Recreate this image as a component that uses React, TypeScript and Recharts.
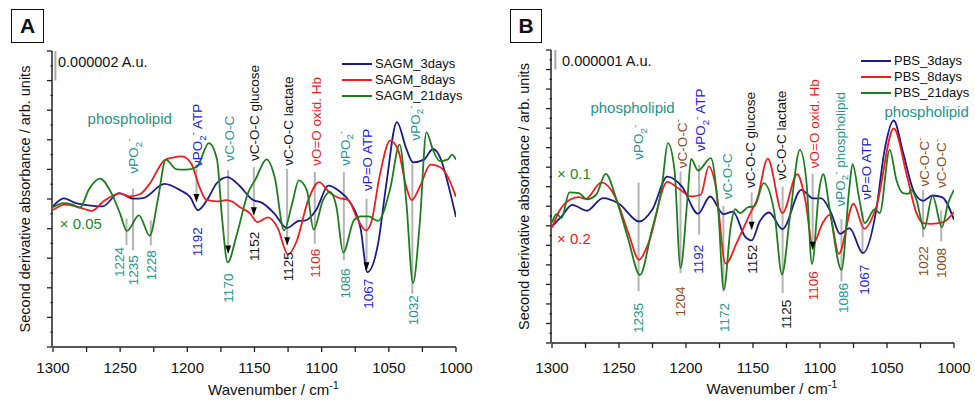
import React from 'react';
import { LineChart, Line, XAxis, YAxis, ReferenceLine, ReferenceDot, Legend } from 'recharts';

type Pt = [number, number];

const FONT = '"Liberation Sans", Arial, Helvetica, sans-serif';
const C_BLUE = '#1b1b8c';
const C_RED = '#f41c1c';
const C_GREEN = '#1e7e1e';
const TEAL = '#22968c';
const LBLUE = '#2020e8';
const LRED = '#f01818';
const BROWN = '#8a4a1c';
const BLACK = '#111111';
const XGREEN = '#1e8a1e';

// ---------- tick labels ----------
const xTicks = [1000, 1025, 1050, 1075, 1100, 1125, 1150, 1175, 1200, 1225, 1250, 1275, 1300];
const xLabeled = [1000, 1050, 1100, 1150, 1200, 1250, 1300];
const yMajorA = [0, 1, 2, 3, 4, 5, 6, 7, 8, 9, 10];
const yMinorA = [0.5, 1.5, 2.5, 3.5, 4.5, 5.5, 6.5, 7.5, 8.5, 9.5];
const yMajorB = [0, 1, 2, 3, 4, 5, 6, 7, 8, 9, 10, 11, 12, 13, 14, 15];
const yMinorB = [0.5, 1.5, 2.5, 3.5, 4.5, 5.5, 6.5, 7.5, 8.5, 9.5, 10.5, 11.5, 12.5, 13.5, 14.5];

// ---------- Panel A series (wavenumber, 2nd derivative in arb. units) ----------
const SAGM_3days: Pt[] = [
  [1300, 4.75], [1292, 5.02], [1283, 4.86], [1275, 4.79], [1263, 4.75], [1251, 5.2], [1240, 5.01],
  [1233, 5.03], [1217, 5.51], [1205, 5.29], [1198, 5.07], [1192, 4.62], [1185, 4.99], [1178, 5.54],
  [1170, 5.74], [1161, 5.44], [1152, 4.99], [1144, 4.86], [1135, 4.5], [1126, 4.02], [1117, 4.26],
  [1112, 4.28], [1104, 4.64], [1095, 5.45], [1087, 5.27], [1079, 4.9], [1071, 4.0], [1066, 2.53],
  [1058, 3.49], [1052, 5.46], [1044, 7.6], [1037, 6.7], [1032, 6.24], [1024, 6.33], [1017, 6.69],
  [1011, 6.31], [1006, 5.52], [1000, 4.39],
];
const SAGM_8days: Pt[] = [
  [1300, 4.63], [1291, 4.81], [1280, 4.71], [1271, 4.6], [1263, 4.9], [1250, 5.19], [1243, 5.09],
  [1235, 5.17], [1228, 5.52], [1217, 6.31], [1211, 6.4], [1204, 6.44], [1197, 6.19], [1191, 5.41],
  [1186, 4.98], [1178, 4.92], [1171, 4.96], [1166, 4.9], [1161, 4.73], [1153, 4.5], [1148, 4.22],
  [1140, 4.38], [1133, 4.05], [1125, 3.13], [1119, 3.53], [1110, 4.96], [1102, 5.57], [1094, 5.21],
  [1088, 5.05], [1080, 4.96], [1074, 4.39], [1067, 3.94], [1063, 4.22], [1057, 5.74], [1049, 6.97],
  [1043, 6.64], [1037, 5.41], [1033, 4.96], [1027, 5.41], [1019, 6.16], [1012, 6.08], [1006, 5.74],
  [1000, 5.07],
];
const SAGM_21days: Pt[] = [
  [1300, 4.72], [1292, 4.86], [1286, 4.82], [1280, 4.71], [1273, 5.35], [1265, 5.69], [1257, 5.24],
  [1250, 4.5], [1245, 3.92], [1236, 4.45], [1228, 3.76], [1222, 4.96], [1216, 6.33], [1208, 6.0],
  [1201, 5.99], [1193, 6.08], [1184, 6.89], [1178, 6.36], [1174, 4.28], [1170, 2.86], [1163, 3.83],
  [1155, 5.18], [1149, 5.69], [1141, 6.34], [1135, 5.74], [1128, 3.94], [1122, 4.84], [1117, 5.63],
  [1111, 5.29], [1106, 3.97], [1099, 4.96], [1094, 5.24], [1089, 4.73], [1084, 3.19], [1076, 4.28],
  [1071, 4.41], [1065, 4.41], [1058, 4.26], [1049, 5.35], [1042, 6.84], [1037, 4.9], [1032, 2.16],
  [1027, 4.17], [1022, 7.25], [1017, 6.64], [1012, 6.28], [1006, 6.34], [1003, 6.5], [1000, 6.33],
];

// ---------- Panel B series ----------
const PBS_3days: Pt[] = [
  [1300, 5.97], [1292.5, 6.51], [1285, 7.07], [1274, 6.77], [1262, 7.42], [1250, 7.13], [1235, 6.22],
  [1225, 6.85], [1214, 8.52], [1203, 8.01], [1191, 6.62], [1182, 7.5], [1172, 6.6], [1165, 6.73],
  [1156, 5.46], [1151, 5.25], [1145, 6.22], [1138, 6.68], [1128, 5.83], [1114, 7.84], [1105, 7.4],
  [1099, 7.4], [1092, 6.7], [1085, 5.59], [1078, 5.88], [1068, 4.6], [1058, 6.82], [1052, 9.8],
  [1045, 11.39], [1038, 9.75], [1030, 7.76], [1023, 7.28], [1016, 7.55], [1009, 7.47], [1000, 6.31],
];
const PBS_8days: Pt[] = [
  [1300, 5.91], [1294, 6.82], [1286, 7.36], [1280, 7.47], [1275, 7.38], [1263, 8.22], [1253, 7.5],
  [1243, 5.63], [1235, 4.26], [1228, 5.11], [1214, 8.25], [1205, 7.88], [1196, 7.5], [1189, 7.59],
  [1183, 9.04], [1178, 8.1], [1170.4, 4.06], [1162, 5.15], [1152, 6.65], [1147, 7.33], [1139, 9.44],
  [1128, 6.65], [1117, 8.64], [1111, 7.33], [1105.5, 5.03], [1098, 6.14], [1093, 6.56], [1086, 4.57],
  [1075, 7.13], [1067, 5.85], [1058, 6.96], [1045, 10.98], [1035, 8.52], [1028, 6.65], [1023, 6.14],
  [1017, 6.1], [1008, 6.19], [1000, 6.7],
];
const PBS_21days: Pt[] = [
  [1300, 6.17], [1296.5, 6.61], [1293, 6.39], [1287, 7.71], [1280, 7.67], [1274, 7.36], [1267, 7.59],
  [1260, 8.66], [1251.5, 7.25], [1243, 5.29], [1234.4, 3.48], [1226, 5.63], [1218, 8.01],
  [1213.5, 10.23], [1208.6, 8.87], [1204.1, 3.84], [1199, 7.33], [1196.2, 9.43], [1191, 8.83],
  [1181.5, 9.46], [1176, 6.82], [1171.8, 2.73], [1166.6, 5.97], [1163.4, 6.85], [1159.7, 6.65],
  [1153.5, 6.96], [1149, 6.99], [1142, 8.18], [1134, 6.65], [1128.4, 3.51], [1122.4, 6.48],
  [1115, 9.89], [1110, 8.18], [1106, 4.04], [1100.6, 7.84], [1097.6, 8.64], [1092.6, 6.78],
  [1084, 3.75], [1078, 8.01], [1075.7, 9.16], [1070.8, 7.42], [1066.6, 6.14], [1059, 6.85],
  [1055.4, 6.65], [1048, 9.89], [1043, 8.35], [1038, 7.67], [1034, 7.64], [1032, 7.84], [1028, 7.33],
  [1022.3, 5.85], [1016, 7.53], [1009, 5.93], [1004.5, 7.13], [1000, 7.84],
];

// ---------- annotations ----------
type Mark = { w: number; from: number; to: number; arrow?: boolean };
type Lbl = { w: number; v: number; t: string; c: string; up: boolean };
type Txt = { w: number; v: number; t: string; c: string; anchor: 'start' | 'middle'; size: number };

const marksA: Mark[] = [
  { w: 1245.3, from: 4.34, to: 3.44 },
  { w: 1240.4, from: 5.35, to: 3.27 },
  { w: 1227.2, from: 4.28, to: 3.44 },
  { w: 1193.2, from: 6.02, to: 4.9, arrow: true },
  { w: 1169.6, from: 5.97, to: 3.16, arrow: true },
  { w: 1150.5, from: 6.08, to: 4.45, arrow: true },
  { w: 1125.7, from: 6.02, to: 3.44, arrow: true },
  { w: 1105.1, from: 5.91, to: 3.49 },
  { w: 1083.5, from: 5.91, to: 2.93 },
  { w: 1066.6, from: 5.01, to: 2.59, arrow: true },
  { w: 1032.5, from: 6.19, to: 1.8 },
];
const labelsA: Lbl[] = [
  { w: 1240.4, v: 5.86, t: 'νPO_2^-', c: TEAL, up: true },
  { w: 1250.3, v: 3.38, t: '1224', c: TEAL, up: false },
  { w: 1240.4, v: 3.1, t: '1235', c: TEAL, up: false },
  { w: 1226.7, v: 3.27, t: '1228', c: TEAL, up: false },
  { w: 1192.7, v: 6.08, t: 'νPO_2^- ATP', c: LBLUE, up: true },
  { w: 1192.7, v: 4.05, t: '1192', c: LBLUE, up: false },
  { w: 1168.9, v: 6.27, t: 'νC-O-C', c: TEAL, up: true },
  { w: 1169.6, v: 2.48, t: '1170', c: TEAL, up: false },
  { w: 1150.5, v: 6.28, t: 'νC-O-C glucose', c: BLACK, up: true },
  { w: 1150.5, v: 3.89, t: '1152', c: BLACK, up: false },
  { w: 1124.7, v: 6.12, t: 'νC-O-C lactate', c: BLACK, up: true },
  { w: 1124.7, v: 3.2, t: '1125', c: BLACK, up: false },
  { w: 1103.8, v: 6.12, t: 'νO=O oxid. Hb', c: LRED, up: true },
  { w: 1105.1, v: 3.32, t: '1106', c: LRED, up: false },
  { w: 1082.7, v: 6.12, t: 'νPO_2^-', c: TEAL, up: true },
  { w: 1082.7, v: 2.65, t: '1086', c: TEAL, up: false },
  { w: 1065.8, v: 5.27, t: 'νP=O ATP', c: LBLUE, up: true },
  { w: 1065.3, v: 2.31, t: '1067', c: LBLUE, up: false },
  { w: 1030.6, v: 6.98, t: 'νPO_2^-', c: TEAL, up: true },
  { w: 1031.8, v: 1.75, t: '1032', c: TEAL, up: false },
];
const textsA: Txt[] = [
  { w: 1242.9, v: 7.71, t: 'phospholipid', c: TEAL, anchor: 'middle', size: 15 },
  { w: 1295, v: 4.17, t: '× 0.05', c: XGREEN, anchor: 'start', size: 15 },
  { w: 1296.3, v: 9.62, t: '0.000002 A.u.', c: BLACK, anchor: 'start', size: 14.5 },
];
const scaleA: Mark = { w: 1298.2, from: 10, to: 9 };

const marksB: Mark[] = [
  { w: 1235.4, from: 8.22, to: 2.64 },
  { w: 1204.1, from: 8.78, to: 3.58 },
  { w: 1190.2, from: 9.12, to: 5.54 },
  { w: 1172.1, from: 7.02, to: 2.64 },
  { w: 1151, from: 7.71, to: 5.8, arrow: true },
  { w: 1127.9, from: 8.01, to: 2.56 },
  { w: 1105.5, from: 8.66, to: 4.77, arrow: true },
  { w: 1084, from: 6.34, to: 3.15 },
  { w: 1068.3, from: 6.73, to: 4.57 },
  { w: 1023.1, from: 7.84, to: 5.42 },
  { w: 1009.5, from: 6.79, to: 5.2 },
];
const labelsB: Lbl[] = [
  { w: 1235.4, v: 9.38, t: 'νPO_2^-', c: TEAL, up: true },
  { w: 1235.4, v: 2.05, t: '1235', c: TEAL, up: false },
  { w: 1203.1, v: 8.95, t: 'νC-O-C^-', c: BROWN, up: true },
  { w: 1204.1, v: 2.9, t: '1204', c: BROWN, up: false },
  { w: 1189, v: 9.8, t: 'νPO_2^- ATP', c: LBLUE, up: true },
  { w: 1190.7, v: 5.03, t: '1192', c: LBLUE, up: false },
  { w: 1169.1, v: 7.36, t: 'νC-O-C', c: TEAL, up: true },
  { w: 1171.3, v: 2.05, t: '1172', c: TEAL, up: false },
  { w: 1151.7, v: 7.93, t: 'νC-O-C glucose', c: BLACK, up: true },
  { w: 1150.5, v: 5.03, t: '1152', c: BLACK, up: false },
  { w: 1128.6, v: 8.35, t: 'νC-O-C lactate', c: BLACK, up: true },
  { w: 1124.9, v: 2.22, t: '1125', c: BLACK, up: false },
  { w: 1104.5, v: 8.95, t: 'νO=O oxid. Hb', c: LRED, up: true },
  { w: 1105, v: 3.67, t: '1106', c: LRED, up: false },
  { w: 1085.2, v: 6.99, t: 'νPO_2^-  phospholipid', c: TEAL, up: true },
  { w: 1082.7, v: 3.07, t: '1086', c: TEAL, up: false },
  { w: 1065.8, v: 7.33, t: 'νP=O ATP', c: LBLUE, up: true },
  { w: 1066.6, v: 4.01, t: '1067', c: LBLUE, up: false },
  { w: 1022.4, v: 8.01, t: 'νC-O-C^-', c: BROWN, up: true },
  { w: 1023.1, v: 4.95, t: '1022', c: BROWN, up: false },
  { w: 1009.5, v: 7.93, t: 'νC-O-C^-', c: BROWN, up: true },
  { w: 1009.5, v: 4.86, t: '1008', c: BROWN, up: false },
];
const textsB: Txt[] = [
  { w: 1239.9, v: 12.07, t: 'phospholipid', c: TEAL, anchor: 'middle', size: 15 },
  { w: 1020.4, v: 11.83, t: 'phospholipid', c: TEAL, anchor: 'middle', size: 15 },
  { w: 1296.2, v: 8.69, t: '× 0.1', c: XGREEN, anchor: 'start', size: 15 },
  { w: 1296.2, v: 5.32, t: '× 0.2', c: LRED, anchor: 'start', size: 15 },
  { w: 1292.5, v: 14.44, t: '0.000001 A.u.', c: BLACK, anchor: 'start', size: 14.5 },
];
const scaleB: Mark = { w: 1297.5, from: 15, to: 14 };

// ---------- helpers ----------
type Part = { t: string; k: number };
function parseRich(s: string): Part[] {
  const out: Part[] = [];
  let buf = '';
  let i = 0;
  while (i < s.length) {
    const ch = s[i];
    if ((ch === '_' || ch === '^') && i + 1 < s.length) {
      if (buf) { out.push({ t: buf, k: 0 }); buf = ''; }
      out.push({ t: s[i + 1], k: ch === '_' ? 1 : -1 });
      i += 2;
    } else {
      buf += ch;
      i += 1;
    }
  }
  if (buf) out.push({ t: buf, k: 0 });
  return out;
}

function richSpans(s: string, size: number) {
  const parts = parseRich(s);
  let cur = 0;
  return parts.map((p, i) => {
    const target = p.k === 1 ? 0.28 * size : p.k === -1 ? -0.42 * size : 0;
    const dy = target - cur;
    cur = target;
    return (
      <tspan key={i} dy={dy !== 0 ? dy : undefined} fontSize={p.k !== 0 ? size * 0.72 : size}>
        {p.t}
      </tspan>
    );
  });
}

const LABEL_SIZE = 13.5;

function rotLabelShape(l: Lbl) {
  return (props: any) => {
    const { cx, cy } = props;
    if (cx == null || cy == null) return <g />;
    return (
      <text
        x={cx}
        y={cy + 0.35 * LABEL_SIZE}
        transform={`rotate(-90 ${cx} ${cy})`}
        textAnchor={l.up ? 'start' : 'end'}
        fill={l.c}
        fontSize={LABEL_SIZE}
        fontFamily={FONT}
      >
        {richSpans(l.t, LABEL_SIZE)}
      </text>
    );
  };
}

function textShape(t: Txt) {
  return (props: any) => {
    const { cx, cy } = props;
    if (cx == null || cy == null) return <g />;
    return (
      <text x={cx} y={cy + 0.36 * t.size} textAnchor={t.anchor} fill={t.c} fontSize={t.size} fontFamily={FONT}>
        {t.t}
      </text>
    );
  };
}

const arrowShape = (props: any) => {
  const { cx, cy } = props;
  if (cx == null || cy == null) return <g />;
  return <path d={`M${cx - 3},${cy - 8} L${cx + 3},${cy - 8} L${cx},${cy} Z`} fill="#000" />;
};

type Series = { name: string; color: string; points: Pt[] };

type PanelProps = {
  left: number;
  width: number;
  margin: { top: number; right: number; bottom: number; left: number };
  yMax: number;
  yMajor: number[];
  yMinor: number[];
  series: Series[];
  marks: Mark[];
  labels: Lbl[];
  texts: Txt[];
  scale: Mark;
  legendLeft: number;
  legendTop: number;
  tickMargin: number;
  xLabelDy: number;
  letter: string;
  letterBox: { left: number; top: number; w: number; h: number };
};

const AXIS = '#222';

function Panel(p: PanelProps) {
  const renderXLabel = (lp: any) => {
    const vb = lp.viewBox || {};
    const x = (vb.x || 0) + (vb.width || 0) / 2 + 19;
    const y = (vb.y || 0) + p.xLabelDy;
    return (
      <text x={x} y={y} textAnchor="middle" fill={BLACK} fontSize={15} fontFamily={FONT}>
        Wavenumber / cm
        <tspan dy={-6} fontSize={11}>-1</tspan>
      </text>
    );
  };
  const renderYLabel = (lp: any) => {
    const vb = lp.viewBox || {};
    const cx = (vb.x || 0) + (vb.width || 0) - 26.5;
    const cy = (vb.y || 0) + (vb.height || 0) / 2;
    return (
      <text
        x={cx}
        y={cy + 0.33 * 14.5}
        transform={`rotate(-90 ${cx} ${cy})`}
        textAnchor="middle"
        fill={BLACK}
        fontSize={14.5}
        fontFamily={FONT}
      >
        Second derivative absorbance / arb. units
      </text>
    );
  };
  const legendContent = () => (
    <div style={{ fontFamily: FONT, fontSize: 13, color: BLACK }}>
      {p.series.map((s) => (
        <div key={s.name} style={{ display: 'flex', alignItems: 'center', height: 16, lineHeight: '16px' }}>
          <svg width={30} height={4} style={{ display: 'block' }}>
            <line x1={0} x2={30} y1={2} y2={2} stroke={s.color} strokeWidth={2} />
          </svg>
          <span style={{ marginLeft: 3, whiteSpace: 'nowrap' }}>{s.name}</span>
        </div>
      ))}
    </div>
  );

  return (
    <div style={{ position: 'absolute', left: p.left, top: 0, width: p.width, height: 400 }}>
      <div
        style={{
          position: 'absolute',
          left: p.letterBox.left,
          top: p.letterBox.top,
          width: p.letterBox.w,
          height: p.letterBox.h,
          boxSizing: 'border-box',
          border: '1.5px solid #111',
          fontFamily: FONT,
          fontWeight: 'bold',
          fontSize: 21,
          color: '#111',
          display: 'flex',
          alignItems: 'center',
          justifyContent: 'center',
          zIndex: 2,
        }}
      >
        {p.letter}
      </div>
      <LineChart width={p.width} height={400} margin={p.margin}>
        <XAxis
          dataKey="w"
          type="number"
          domain={[1000, 1300]}
          reversed
          allowDataOverflow
          ticks={xTicks}
          interval={0}
          height={45}
          tickSize={5}
          tickMargin={p.tickMargin}
          tickFormatter={(v: number) => (xLabeled.includes(v) ? String(v) : '')}
          tick={{ fill: BLACK, fontSize: 15, fontFamily: FONT }}
          axisLine={{ stroke: AXIS, strokeWidth: 1.5 }}
          tickLine={{ stroke: AXIS, strokeWidth: 1.3 }}
          label={renderXLabel}
        />
        <YAxis
          yAxisId="y"
          type="number"
          domain={[0, p.yMax]}
          allowDataOverflow
          ticks={p.yMajor}
          interval={0}
          width={1}
          tickSize={5}
          tickMargin={0}
          tickFormatter={() => ''}
          axisLine={{ stroke: AXIS, strokeWidth: 1.5 }}
          tickLine={{ stroke: AXIS, strokeWidth: 1.3 }}
          label={renderYLabel}
        />
        <YAxis
          yAxisId="m"
          type="number"
          domain={[0, p.yMax]}
          allowDataOverflow
          ticks={p.yMinor}
          interval={0}
          width={1}
          tickSize={2.5}
          tickMargin={0}
          tickFormatter={() => ''}
          axisLine={false}
          tickLine={{ stroke: AXIS, strokeWidth: 1.3 }}
        />
        <ReferenceLine
          yAxisId="y"
          segment={[{ x: p.scale.w, y: p.scale.from }, { x: p.scale.w, y: p.scale.to }]}
          stroke="#a8a8a8"
          strokeWidth={2}
          ifOverflow="visible"
        />
        {p.marks.map((m, i) => (
          <ReferenceLine
            key={`m${i}`}
            yAxisId="y"
            segment={[{ x: m.w, y: m.from }, { x: m.w, y: m.to }]}
            stroke="#b4b4b4"
            strokeWidth={2}
            ifOverflow="visible"
          />
        ))}
        {p.series.map((s) => (
          <Line
            key={s.name}
            yAxisId="y"
            name={s.name}
            data={s.points.map(([w, v]) => ({ w, v }))}
            dataKey="v"
            type="monotone"
            stroke={s.color}
            strokeWidth={1.8}
            dot={false}
            activeDot={false}
            isAnimationActive={false}
          />
        ))}
        {p.marks
          .filter((m) => m.arrow)
          .map((m, i) => (
            <ReferenceDot key={`a${i}`} yAxisId="y" x={m.w} y={m.to} ifOverflow="visible" shape={arrowShape} />
          ))}
        {p.labels.map((l, i) => (
          <ReferenceDot key={`l${i}`} yAxisId="y" x={l.w} y={l.v} ifOverflow="visible" shape={rotLabelShape(l)} />
        ))}
        {p.texts.map((t, i) => (
          <ReferenceDot key={`t${i}`} yAxisId="y" x={t.w} y={t.v} ifOverflow="visible" shape={textShape(t)} />
        ))}
        <Legend
          layout="horizontal"
          verticalAlign="middle"
          align="center"
          wrapperStyle={{ left: p.legendLeft, top: p.legendTop, width: 'auto', height: 'auto' }}
          content={legendContent}
        />
      </LineChart>
    </div>
  );
}

export default function App() {
  const seriesA: Series[] = [
    { name: 'SAGM_3days', color: C_BLUE, points: SAGM_3days },
    { name: 'SAGM_8days', color: C_RED, points: SAGM_8days },
    { name: 'SAGM_21days', color: C_GREEN, points: SAGM_21days },
  ];
  const seriesB: Series[] = [
    { name: 'PBS_3days', color: C_BLUE, points: PBS_3days },
    { name: 'PBS_8days', color: C_RED, points: PBS_8days },
    { name: 'PBS_21days', color: C_GREEN, points: PBS_21days },
  ];
  return (
    <div style={{ position: 'absolute', left: 0, top: 0, width: 975, height: 400, background: '#fff', overflow: 'hidden' }}>
      <Panel
        left={0}
        width={490}
        margin={{ top: 51, right: 34, bottom: 8, left: 51 }}
        yMax={10}
        yMajor={yMajorA}
        yMinor={yMinorA}
        series={seriesA}
        marks={marksA}
        labels={labelsA}
        texts={textsA}
        scale={scaleA}
        legendLeft={342}
        legendTop={56}
        tickMargin={10}
        xLabelDy={48}
        letter="A"
        letterBox={{ left: 11, top: 9, w: 33, h: 34 }}
      />
      <Panel
        left={490}
        width={485}
        margin={{ top: 50, right: 21, bottom: 12, left: 60 }}
        yMax={15}
        yMajor={yMajorB}
        yMinor={yMinorB}
        series={seriesB}
        marks={marksB}
        labels={labelsB}
        texts={textsB}
        scale={scaleB}
        legendLeft={371}
        legendTop={53}
        tickMargin={14}
        xLabelDy={50.5}
        letter="B"
        letterBox={{ left: 20, top: 9, w: 32, h: 34 }}
      />
    </div>
  );
}
